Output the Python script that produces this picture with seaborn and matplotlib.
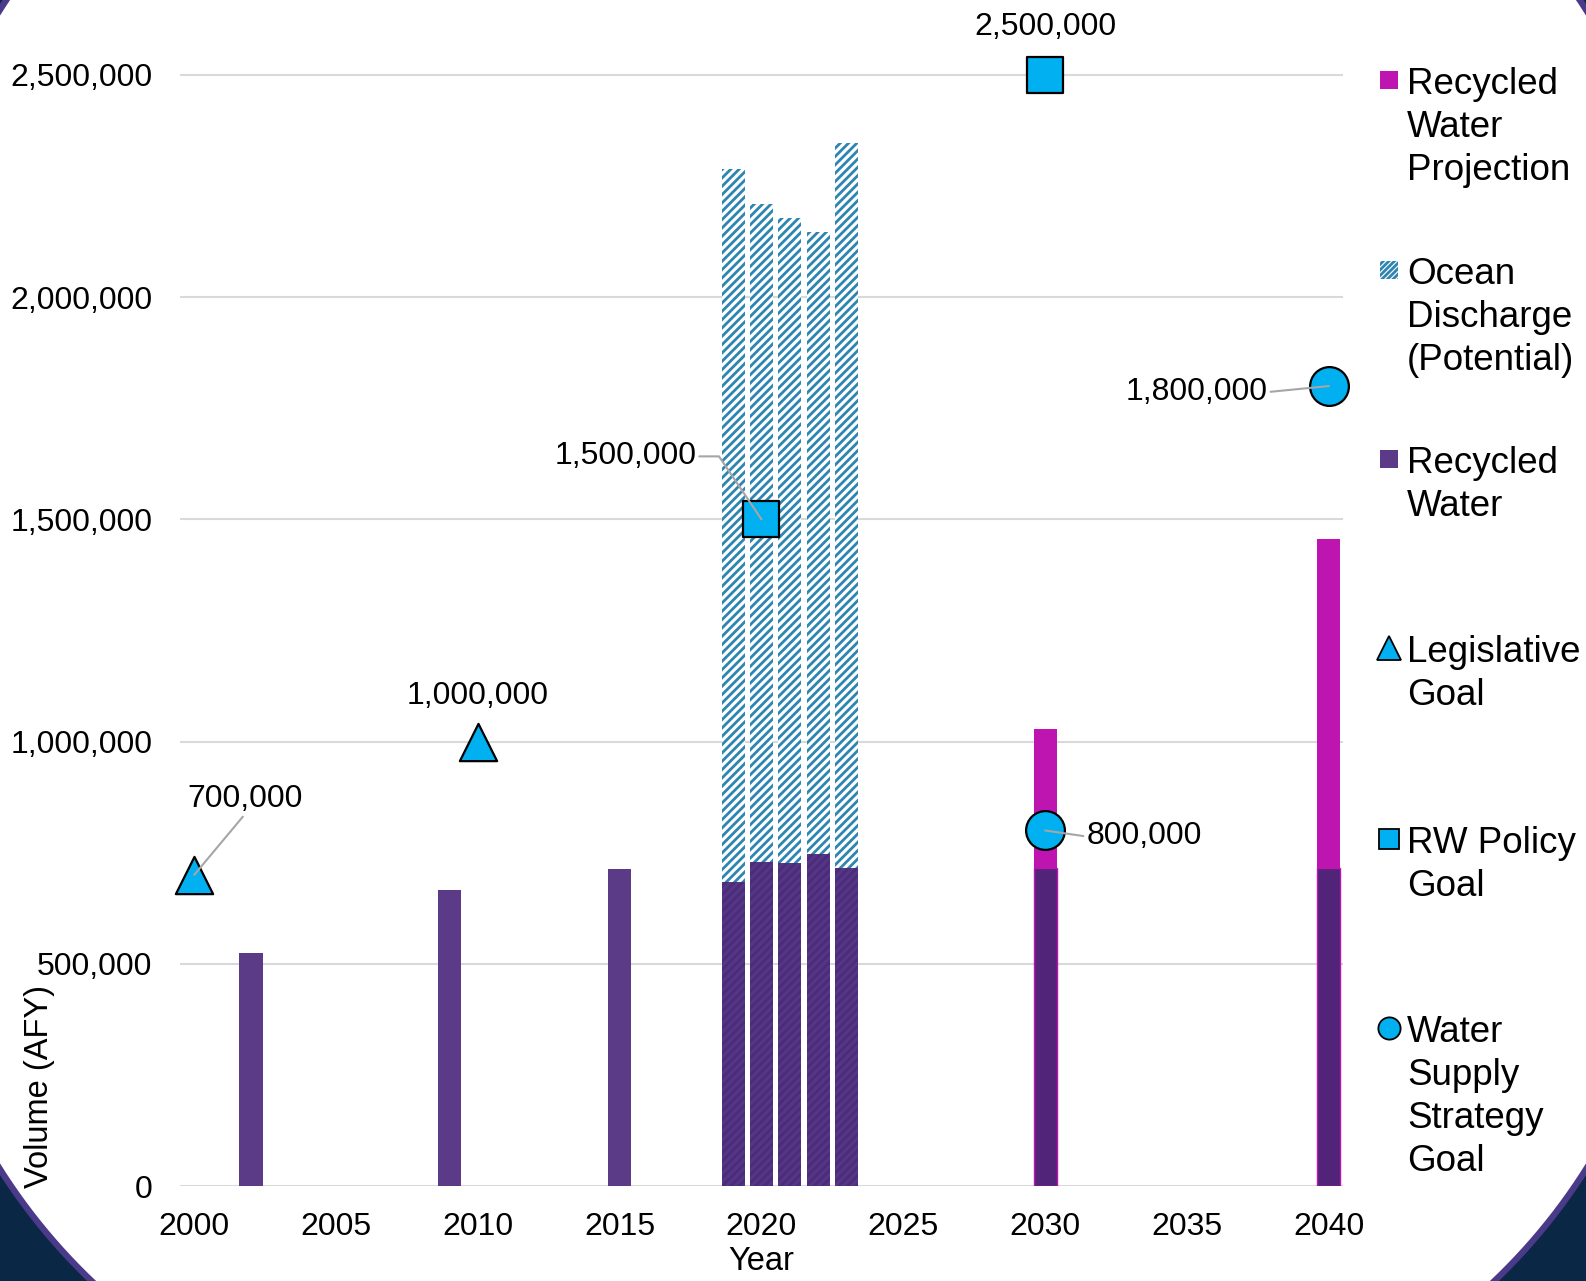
import numpy as np
import pandas as pd
import seaborn as sns
import matplotlib
matplotlib.use("Agg")
import matplotlib.pyplot as plt
from matplotlib.patches import Polygon, Rectangle
from matplotlib.lines import Line2D
from matplotlib.transforms import IdentityTransform
from matplotlib.ticker import FuncFormatter

# ---------------- data ----------------
years = [2002, 2009, 2015, 2019, 2020, 2021, 2022, 2023, 2030, 2040]
recycled = [524000, 667000, 713000, 683000, 729000, 726000, 747000, 715000, 715000, 715000]
ocean = [0, 0, 0, 1605000, 1480000, 1453000, 1400000, 1632000, 0, 0]
projection = [0, 0, 0, 0, 0, 0, 0, 0, 314000, 740000]

leg_years = [2000, 2010]
leg_vals = [700000, 1000000]
policy_years = [2020, 2030]
policy_vals = [1500000, 2500000]
wss_years = [2030, 2040]
wss_vals = [800000, 1800000]

legend_labels = ["Recycled\nWater\nProjection", "Ocean\nDischarge\n(Potential)",
                 "Recycled\nWater", "Legislative\nGoal", "RW Policy\nGoal",
                 "Water\nSupply\nStrategy\nGoal"]

# ---------------- style ----------------
plt.rcParams['hatch.linewidth'] = 2.0
plt.rcParams['font.family'] = ['Liberation Sans', 'DejaVu Sans']
FS = 23
FS_LEG = 26.5
C_PURPLE = '#5B3A87'
C_PURPLE_DARK = '#512479'
C_MAGENTA = '#BE14B0'
C_HATCH = '#2E86B0'
C_MARK = '#00B0F0'
C_GRID = '#D9D9D9'

W, H = 1586, 1281
fig = plt.figure(figsize=(W / 100, H / 100), dpi=100)
fig.patch.set_facecolor('#0A2746')

# rounded white panel (background decoration)
def rounded_rect(x0, y0, x1, y1, r, n=80):
    pts = []
    for cx, cy, a0 in [(x1 - r, y1 - r, 0), (x0 + r, y1 - r, 90),
                       (x0 + r, y0 + r, 180), (x1 - r, y0 + r, 270)]:
        th = np.radians(np.linspace(a0, a0 + 90, n))
        pts += list(zip(cx + r * np.cos(th), cy + r * np.sin(th)))
    return pts

bg = Polygon(rounded_rect(-92, H - 1445, W + 92, H + 266, 593), closed=True,
             transform=IdentityTransform(), fc='white', ec='#4B3A8A', lw=4.5,
             zorder=-10)
fig.add_artist(bg)

ax = fig.add_axes([180 / W, 95 / H, (1343 - 180) / W, (1186 - 8.3) / H])
ax.set_facecolor('none')

df = pd.DataFrame({'year': years, 'recycled': recycled, 'ocean': ocean,
                   'projection': projection})
df['top'] = df['recycled'] + df['ocean'] + df['projection']

# top layer (ocean discharge / projection)
sns.barplot(data=df, x='year', y='top', native_scale=True, width=0.82,
            errorbar=None, ax=ax, color='white', zorder=2)
for bar, oc, pr in zip(ax.containers[-1], df['ocean'], df['projection']):
    if oc > 0:
        bar.set_facecolor('white')
        bar.set_hatch('////')
        bar.set_edgecolor(C_HATCH)
        bar.set_linewidth(0)
    elif pr > 0:
        bar.set_facecolor(C_MAGENTA)
        bar.set_edgecolor('none')
        bar.set_linewidth(0)
    else:
        bar.set_visible(False)

# recycled layer
sns.barplot(data=df, x='year', y='recycled', native_scale=True, width=0.82,
            errorbar=None, ax=ax, color=C_PURPLE, zorder=3)
for bar, oc, pr in zip(ax.containers[-1], df['ocean'], df['projection']):
    bar.set_linewidth(0)
    if oc > 0:
        bar.set_facecolor('#553586')
        bar.set_hatch('////')
        bar.set_edgecolor('#4A2C78')
    elif pr > 0:
        bar.set_facecolor(C_PURPLE_DARK)
        bar.set_edgecolor(C_MAGENTA)
        bar.set_linewidth(1)
    else:
        bar.set_facecolor(C_PURPLE)
        bar.set_edgecolor('none')

# goal markers
mk = dict(color=C_MARK, edgecolor='black', linewidth=1.6, zorder=6, clip_on=False, ax=ax, legend=False)
sns.scatterplot(x=leg_years, y=leg_vals, marker='^', s=720, **mk)
sns.scatterplot(x=policy_years, y=policy_vals, marker='s', s=660, **mk)
sns.scatterplot(x=wss_years, y=wss_vals, marker='o', s=780, **mk)

# annotations
lead = dict(arrowstyle='-', color='#A6A6A6', lw=1.5, shrinkA=0, shrinkB=0)
def ann(txt, xy, off, ha='center', arrow=None):
    ax.annotate(txt, xy=xy, xytext=off, textcoords='offset pixels', ha=ha,
                va='center', fontsize=FS, zorder=7, arrowprops=arrow,
                annotation_clip=False)

ann(f"{leg_vals[0]:,}", (leg_years[0], leg_vals[0]), (51, 76), arrow=dict(lead, relpos=(0.5, 0)))
ann(f"{leg_vals[1]:,}", (leg_years[1], leg_vals[1]), (0, 46))
ann(f"{policy_vals[0]:,}", (policy_years[0], policy_vals[0]), (-65, 63), ha='right',
    arrow=dict(lead, relpos=(1, 0.5), connectionstyle='angle,angleA=0,angleB=124,rad=0'))
ann(f"{policy_vals[1]:,}", (policy_years[1], policy_vals[1]), (0, 48))
ann(f"{wss_vals[0]:,}", (wss_years[0], wss_vals[0]), (41, -6), ha='left', arrow=dict(lead, relpos=(0, 0.5)))
ann(f"{wss_vals[1]:,}", (wss_years[1], wss_vals[1]), (-61, -6), ha='right', arrow=dict(lead, relpos=(1, 0.5)))

# axes styling
ax.set_xlim(1999.5, 2040.5)
ax.set_ylim(0, 2650000)
ax.set_xticks(range(2000, 2041, 5))
ax.set_yticks(range(0, 2500001, 500000))
ax.yaxis.set_major_formatter(FuncFormatter(lambda v, p: f"{int(v):,}"))
ax.yaxis.grid(True, color=C_GRID, lw=1.5, zorder=0)
ax.xaxis.grid(False)
ax.set_axisbelow(True)
for s in ax.spines.values():
    s.set_visible(False)
ax.tick_params(axis='both', length=0, labelsize=FS)
ax.tick_params(axis='y', pad=20)
ax.tick_params(axis='x', pad=19)
ax.set_xlabel('')
ax.set_ylabel('')

fig.text(761 / W, 1 - 1262 / H, 'Year', ha='center', va='center', fontsize=23.5)
fig.text(40 / W, 1 - 1087 / H, 'Volume (AFY)', ha='center', va='center',
         fontsize=23.5, rotation=90)

# manual legend
first_y = [80, 270, 459, 648, 839, 1028]
hx, tx = 1389, 1407
kinds = ['magenta', 'hatch', 'purple', '^', 's', 'o']
for lab, yy, kind in zip(legend_labels, first_y, kinds):
    yd = H - yy
    fig.text(tx / W, (yd + 13) / H, lab, ha='left', va='top', fontsize=FS_LEG,
             linespacing=1.30)
    if kind in ('magenta', 'hatch', 'purple'):
        sz = 18
        if kind == 'magenta':
            r = Rectangle((hx - sz / 2, yd - sz / 2), sz, sz, fc=C_MAGENTA, ec='none',
                          transform=IdentityTransform())
        elif kind == 'purple':
            r = Rectangle((hx - sz / 2, yd - sz / 2), sz, sz, fc=C_PURPLE, ec='none',
                          transform=IdentityTransform())
        else:
            r = Rectangle((hx - sz / 2, yd - sz / 2), sz, sz, fc='white', ec=C_HATCH,
                          lw=0, hatch='//////', transform=IdentityTransform())
        fig.add_artist(r)
    else:
        ms = {'^': 17, 's': 15, 'o': 16}[kind]
        l = Line2D([hx], [yd], marker=kind, ms=ms, mfc=C_MARK, mec='black', mew=1.3,
                   ls='none', transform=IdentityTransform())
        fig.add_artist(l)

fig.savefig('out.png', dpi=100)
